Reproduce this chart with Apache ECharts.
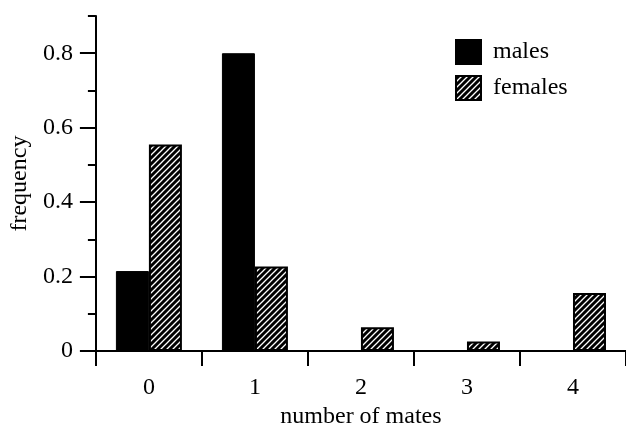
<!DOCTYPE html>
<html>
<head>
<meta charset="utf-8">
<script src="https://cdn.jsdelivr.net/npm/echarts@6/dist/echarts.min.js"></script>
<style>
html,body{margin:0;padding:0;background:#fff;}
#chart{width:626px;height:434px;}
</style>
</head>
<body>
<div id="chart"></div>
<script>
const categories = ['0', '1', '2', '3', '4'];
const males = [0.215, 0.80, 0, 0, 0];
const females = [0.555, 0.227, 0.064, 0.026, 0.156];
const majorTicks = [0, 0.2, 0.4, 0.6, 0.8];
const minorTicks = [0.1, 0.3, 0.5, 0.7, 0.9];

function hatch() {
  const c = document.createElement('canvas');
  const s = 6;
  c.width = s; c.height = s;
  const g = c.getContext('2d');
  g.fillStyle = '#000';
  g.fillRect(0, 0, s, s);
  g.strokeStyle = '#fff';
  g.lineWidth = 1.3;
  g.beginPath();
  g.moveTo(0, s); g.lineTo(s, 0);
  g.moveTo(-s/2, s/2); g.lineTo(s/2, -s/2);
  g.moveTo(s/2, s*1.5); g.lineTo(s*1.5, s/2);
  g.stroke();
  return c;
}

const FONT = 'Liberation Serif';
const FS = 24;
const chart = echarts.init(document.getElementById('chart'));
chart.setOption({
  animation: false,
  backgroundColor: '#fff',
  textStyle: { fontFamily: FONT, color: '#000' },
  grid: { left: 93, right: 0, top: 16, bottom: 76, containLabel: false },
  legend: {
    orient: 'vertical', left: 450, top: 34,
    icon: 'rect',
    itemWidth: 25, itemHeight: 24, itemGap: 10,
    textStyle: { fontFamily: FONT, fontSize: FS, color: '#000', padding: [0, 0, 0, 7] },
    data: ['males', 'females']
  },
  xAxis: {
    type: 'category', data: categories,
    name: 'number of mates', nameLocation: 'middle', nameGap: 52,
    nameTextStyle: { fontFamily: FONT, fontSize: FS, color: '#000' },
    axisLine: { lineStyle: { color: '#000', width: 2 } },
    axisTick: { show: true, alignWithLabel: false, length: 15, lineStyle: { color: '#000', width: 2 } },
    axisLabel: { fontFamily: FONT, fontSize: FS, color: '#000', margin: 25 },
    splitLine: { show: false }
  },
  yAxis: [{
    type: 'value', min: 0, max: 0.9,
    name: 'frequency', nameLocation: 'middle', nameGap: 62,
    nameTextStyle: { fontFamily: FONT, fontSize: FS, color: '#000' },
    axisLine: { show: true, lineStyle: { color: '#000', width: 2 } },
    axisTick: { show: true, length: 16, customValues: majorTicks, lineStyle: { color: '#000', width: 2 } },
    axisLabel: { fontFamily: FONT, fontSize: FS, color: '#000', margin: 23, customValues: majorTicks },
    splitLine: { show: false }
  }, {
    type: 'value', min: 0, max: 0.9, position: 'left',
    axisLine: { show: false },
    axisTick: { show: true, length: 8, customValues: minorTicks, lineStyle: { color: '#000', width: 2 } },
    axisLabel: { show: false },
    splitLine: { show: false }
  }],
  series: [{
    name: 'males', type: 'bar', data: males,
    barWidth: 33, barGap: '0%',
    itemStyle: { color: '#000', borderColor: '#000', borderWidth: 1 }
  }, {
    name: 'females', type: 'bar', data: females,
    barWidth: 33, barGap: '0%',
    itemStyle: { color: { image: hatch(), repeat: 'repeat' }, borderColor: '#000', borderWidth: 2 }
  }]
});
</script>
</body>
</html>
